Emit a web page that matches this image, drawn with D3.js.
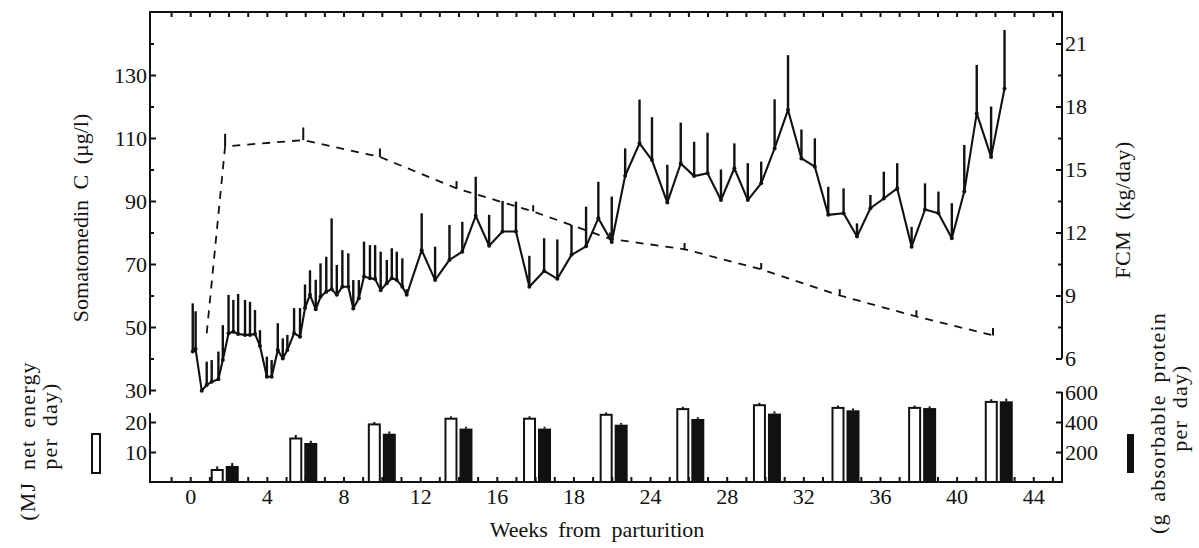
<!DOCTYPE html>
<html>
<head>
<meta charset="utf-8">
<script src="https://cdn.jsdelivr.net/npm/d3@7"></script>
<style>
body { margin: 0; background: #fff; }
svg text { font-family: "Liberation Serif", "Times New Roman", serif; fill: #111; }
</style>
</head>
<body>
<script>
var width = 1199, height = 548;

// Somatomedin C (ug/l): weeks, means and upper SE
var sWeeks = [0.13, 0.28, 0.6, 0.86, 1.12, 1.47, 1.7, 2.0, 2.25, 2.5, 2.86, 3.12, 3.38, 3.64, 4.0, 4.25,
  4.57, 4.83, 5.07, 5.42, 5.73, 5.99, 6.25, 6.55, 6.8, 7.1, 7.38, 7.65, 7.94, 8.25, 8.51, 8.8,
  9.07, 9.38, 9.65, 9.94, 10.26, 10.52, 10.78, 11.07, 11.3, 12.08, 12.78, 13.53, 14.2, 14.9,
  15.6, 16.3, 17.0, 17.7, 18.47, 19.16, 19.9, 20.66, 21.3, 22.0, 22.7, 23.45, 24.1, 24.9, 25.6,
  26.3, 27.0, 27.7, 28.4, 29.1, 29.8, 30.5, 31.2, 31.9, 32.6, 33.3, 34.1, 34.8, 35.5, 36.2,
  36.9, 37.65, 38.35, 39.05, 39.75, 40.4, 41.05, 41.8, 42.5];
var sValues = [42.2, 43, 29.8, 31.6, 32.6, 33.4, 39.5, 48, 48.5, 47.8, 47.5, 47.5, 47.8, 44, 34.2, 34.2,
  42.7, 40, 42.7, 48, 46.9, 56, 60.2, 55.6, 59.6, 61.2, 62, 60.2, 62.8, 62.8, 55.9, 59.1,
  66, 65.5, 65.2, 61.7, 63.9, 65.5, 64.9, 62.8, 60.2, 74.4, 64.9, 71.3, 73.9, 85.3,
  75.8, 80.3, 80.3, 62.8, 67.8, 65.3, 72.9, 75.6, 84.5, 77, 98, 108.3, 103, 89.5, 101.9,
  97.9, 98.8, 90.3, 100.4, 90.3, 95.6, 106.7, 118.9, 103.5, 100.9, 85.6, 86.1, 78.7, 87.7, 90.8,
  94, 75.5, 87.3, 86.1, 78.2, 93, 117.8, 104, 125.7];
var sErr = [15.3, 12, 0, 7.4, 6.9, 8.8, 11.1, 12.2, 10.1, 12.7, 11.1, 10.5, 7.6, 5, 6.4, 5.3,
  8.5, 6.4, 4.8, 8, 9.1, 7.5, 7.8, 9.4, 10.6, 11.1, 22.5, 9.5, 11.6, 10.6, 9, 5.8,
  11.1, 10.5, 10.8, 12.2, 7.4, 9.5, 9, 9, 1.8, 11.7, 10.6, 11.1, 9.5, 12.4,
  9.8, 9.7, 9.5, 9.8, 10.4, 12.5, 9.5, 12.6, 11.6, 14.4, 8.7, 13.9, 13.6, 12, 13,
  10.9, 12.9, 9.7, 7.9, 11.7, 6.9, 15.6, 17.4, 9.2, 9, 8.9, 7.9, 4.2, 4.2, 8.5,
  8, 6.3, 8.3, 6.9, 11.1, 14.8, 15.4, 16, 18.6];

// FCM (kg/day), dashed line
var fcmWeeks = [0.86, 1.82, 5.9, 9.9, 13.9, 17.9, 21.9, 25.8, 29.8, 33.9, 37.9, 41.9];
var fcmValues = [7.2, 16.1, 16.4, 15.6, 14.1, 13.0, 11.7, 11.2, 10.25, 9.0, 8.0, 7.1];
var fcmErr = [0, 0.6, 0.6, 0.4, 0.35, 0.3, 0.3, 0.3, 0.3, 0.3, 0.3, 0.35];

// diet intake bars
var dietWeeks = [1.8, 5.9, 10.0, 14.0, 18.1, 22.1, 26.1, 30.1, 34.2, 38.2, 42.2];
var energyValues = [4.0, 14.5, 19.2, 21.1, 21.1, 22.4, 24.3, 25.6, 24.7, 24.7, 26.7];
var energyErr = [1.2, 1.2, 0.8, 0.8, 0.8, 0.8, 0.8, 0.8, 0.8, 0.8, 0.9];
var proteinValues = [107, 260, 322, 356, 356, 382, 420, 456, 478, 493, 538];
var proteinErr = [20, 15, 15, 12, 12, 12, 12, 15, 12, 12, 18];

// ticks
var sTicks = [30, 50, 70, 90, 110, 130];
var sMinor = [40, 60, 80, 100, 120, 140];
var fcmTicks = [6, 9, 12, 15, 18, 21];
var fcmMinor = [7.5, 10.5, 13.5, 16.5, 19.5];
var energyTicks = [10, 20];
var proteinTicks = [200, 400, 600];
var weekTicks = [0, 4, 8, 12, 16, 20, 24, 28, 32, 36, 40, 44];
var weekTickLabels = ["0", "4", "8", "12", "16", "18", "24", "28", "32", "36", "40", "44"];
var weekMinor = d3.range(-1, 46);

var svg = d3.select("body").append("svg").attr("width", width).attr("height", height);

var x = d3.scaleLinear().domain([-2.1, 45.5]).range([150, 1062]);
var yS = d3.scaleLinear().domain([30, 130]).range([390, 75]);
var yF = d3.scaleLinear().domain([6, 21]).range([yS(40), yS(140)]);
var yE = d3.scaleLinear().domain([0, 20]).range([482, 422]);
var yP = d3.scaleLinear().domain([0, 600]).range([482, 392]);

var left = x.range()[0], right = x.range()[1];
var topY = yS(150), baseY = yE(0);
var fs = 22;

function line(x1, y1, x2, y2, w) {
  svg.append("line").attr("x1", x1).attr("y1", y1).attr("x2", x2).attr("y2", y2)
    .attr("stroke", "#111").attr("stroke-width", w || 2);
}

function styleAxis(g) {
  g.select(".domain").remove();
  g.selectAll(".tick line").attr("stroke", "#111").attr("stroke-width", 2);
  g.selectAll(".tick text").attr("font-size", fs).attr("fill", "#111")
    .style("font-family", "'Liberation Serif', serif");
}

// frame lines
line(left, topY, right, topY);
line(left, topY - 1, left, yS(28.5));
line(right, topY - 1, right, yF(6));
line(left, yE(23), left, baseY + 1);
line(right, yP(600), right, baseY + 1);
line(left - 1, baseY, right + 1, baseY);

// top weekly ticks
svg.append("g").attr("transform", "translate(0," + topY + ")")
  .call(d3.axisTop(x).tickValues(weekMinor).tickFormat("").tickSizeInner(-5).tickSizeOuter(0))
  .call(styleAxis);

// bottom axis
svg.append("g").attr("transform", "translate(0," + baseY + ")")
  .call(d3.axisBottom(x).tickValues(weekMinor).tickFormat("").tickSizeInner(-5).tickSizeOuter(0))
  .call(styleAxis);
svg.append("g").attr("transform", "translate(0," + baseY + ")")
  .call(d3.axisBottom(x).tickValues(weekTicks)
    .tickFormat(function(d, i) { return weekTickLabels[i]; })
    .tickSizeInner(0).tickSizeOuter(0).tickPadding(6))
  .call(styleAxis);

// left axis (somatomedin)
svg.append("g").attr("transform", "translate(" + left + ",0)")
  .call(d3.axisLeft(yS).tickValues(sTicks).tickSizeInner(-6).tickSizeOuter(0).tickPadding(3))
  .call(styleAxis);
svg.append("g").attr("transform", "translate(" + left + ",0)")
  .call(d3.axisLeft(yS).tickValues(sMinor).tickFormat("").tickSizeInner(-4).tickSizeOuter(0))
  .call(styleAxis);

// right axis (FCM)
svg.append("g").attr("transform", "translate(" + right + ",0)")
  .call(d3.axisRight(yF).tickValues(fcmTicks).tickSizeInner(-6).tickSizeOuter(0).tickPadding(3))
  .call(styleAxis);
svg.append("g").attr("transform", "translate(" + right + ",0)")
  .call(d3.axisRight(yF).tickValues(fcmMinor).tickFormat("").tickSizeInner(-4).tickSizeOuter(0))
  .call(styleAxis);

// bottom panel axes
svg.append("g").attr("transform", "translate(" + left + ",0)")
  .call(d3.axisLeft(yE).tickValues(energyTicks).tickSizeInner(-6).tickSizeOuter(0).tickPadding(3))
  .call(styleAxis);
svg.append("g").attr("transform", "translate(" + right + ",0)")
  .call(d3.axisRight(yP).tickValues(proteinTicks).tickSizeInner(-6).tickSizeOuter(0).tickPadding(3))
  .call(styleAxis);

// FCM dashed line
var fcmData = fcmWeeks.map(function(w, i) { return {w: w, v: fcmValues[i], e: fcmErr[i]}; });
svg.append("path").datum(fcmData)
  .attr("fill", "none").attr("stroke", "#111").attr("stroke-width", 1.8)
  .attr("stroke-dasharray", "8,7")
  .attr("d", d3.line().x(function(d) { return x(d.w); }).y(function(d) { return yF(d.v); }));
svg.selectAll(".fcmErr").data(fcmData).enter().append("line")
  .attr("x1", function(d) { return x(d.w); }).attr("x2", function(d) { return x(d.w); })
  .attr("y1", function(d) { return yF(d.v); }).attr("y2", function(d) { return yF(d.v + d.e); })
  .attr("stroke", "#111").attr("stroke-width", 2);

// Somatomedin C solid line with SE bars
var sData = sWeeks.map(function(w, i) { return {w: w, v: sValues[i], e: sErr[i]}; });
svg.selectAll(".sErr").data(sData).enter().append("line")
  .attr("x1", function(d) { return x(d.w); }).attr("x2", function(d) { return x(d.w); })
  .attr("y1", function(d) { return yS(d.v); }).attr("y2", function(d) { return yS(d.v + d.e); })
  .attr("stroke", "#111").attr("stroke-width", 2.4);
svg.append("path").datum(sData)
  .attr("fill", "none").attr("stroke", "#111").attr("stroke-width", 2.1)
  .attr("stroke-linejoin", "round")
  .attr("d", d3.line().x(function(d) { return x(d.w); }).y(function(d) { return yS(d.v); }));
svg.selectAll(".sDot").data(sData).enter().append("circle")
  .attr("cx", function(d) { return x(d.w); }).attr("cy", function(d) { return yS(d.v); })
  .attr("r", 2).attr("fill", "#111");

// diet bars
var barW = 11, off = 7.5;
var dietData = dietWeeks.map(function(w, i) {
  return {w: w, e: energyValues[i], ee: energyErr[i], p: proteinValues[i], pe: proteinErr[i]};
});
svg.selectAll(".eErr").data(dietData).enter().append("line")
  .attr("x1", function(d) { return x(d.w) - off; }).attr("x2", function(d) { return x(d.w) - off; })
  .attr("y1", function(d) { return yE(d.e); }).attr("y2", function(d) { return yE(d.e + d.ee); })
  .attr("stroke", "#111").attr("stroke-width", 2);
svg.selectAll(".eBar").data(dietData).enter().append("rect")
  .attr("x", function(d) { return x(d.w) - off - barW / 2; })
  .attr("y", function(d) { return yE(d.e); })
  .attr("width", barW).attr("height", function(d) { return baseY - yE(d.e); })
  .attr("fill", "#fff").attr("stroke", "#111").attr("stroke-width", 2);
svg.selectAll(".pErr").data(dietData).enter().append("line")
  .attr("x1", function(d) { return x(d.w) + off; }).attr("x2", function(d) { return x(d.w) + off; })
  .attr("y1", function(d) { return yP(d.p); }).attr("y2", function(d) { return yP(d.p + d.pe); })
  .attr("stroke", "#111").attr("stroke-width", 2);
svg.selectAll(".pBar").data(dietData).enter().append("rect")
  .attr("x", function(d) { return x(d.w) + off - barW / 2 - 1; })
  .attr("y", function(d) { return yP(d.p); })
  .attr("width", barW + 2).attr("height", function(d) { return baseY - yP(d.p); })
  .attr("fill", "#111");

// axis titles
function vtext(cx, cy, str, ls) {
  svg.append("text").attr("transform", "translate(" + cx + "," + cy + ") rotate(-90)")
    .attr("text-anchor", "middle").attr("font-size", fs)
    .style("word-spacing", "5px").style("letter-spacing", (ls || 0) + "px").text(str);
}
vtext(88, 218, "Somatomedin C (\u00b5g/l)");
vtext(1130, 210, "FCM (kg/day)", 0.5);
vtext(35, 441, "(MJ net energy", 1.2);
vtext(57, 426, "per day)", 1.2);
vtext(1165, 423, "(g absorbable protein", 1.2);
vtext(1187, 408, "per day)", 1.2);

svg.append("text").attr("x", 597).attr("y", 537).attr("text-anchor", "middle")
  .attr("font-size", fs).style("word-spacing", "5px").text("Weeks from parturition");

// legend swatches
svg.append("rect").attr("x", 92).attr("y", 434).attr("width", 8).attr("height", 39)
  .attr("fill", "#fff").attr("stroke", "#111").attr("stroke-width", 2);
svg.append("rect").attr("x", 1127).attr("y", 434).attr("width", 7).attr("height", 39)
  .attr("fill", "#111");
</script>
</body>
</html>
